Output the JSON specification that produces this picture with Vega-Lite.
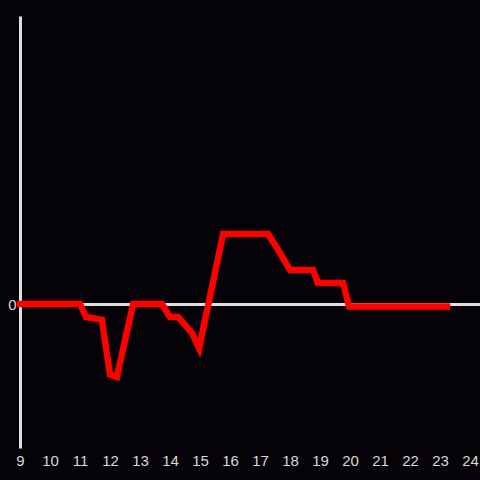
{
  "$schema": "https://vega.github.io/schema/vega-lite/v6.json",
  "width": 460,
  "height": 432,
  "autosize": {"type": "none"},
  "padding": {"left": 20, "top": 16, "right": 0, "bottom": 32},
  "background": "#050307",
  "config": {
    "view": {"stroke": null},
    "font": "Liberation Sans"
  },
  "data": {
    "values": [
      {"x": 9.0, "y": 0},
      {"x": 11.0, "y": 0},
      {"x": 11.2, "y": -0.9},
      {"x": 11.73, "y": -1.1},
      {"x": 12.0, "y": -4.9},
      {"x": 12.23, "y": -5.07},
      {"x": 12.77, "y": 0},
      {"x": 13.73, "y": 0},
      {"x": 14.0, "y": -0.9},
      {"x": 14.27, "y": -0.9},
      {"x": 14.73, "y": -2.0},
      {"x": 14.97, "y": -3.06},
      {"x": 15.77, "y": 4.86},
      {"x": 17.27, "y": 4.86},
      {"x": 17.67, "y": 3.54},
      {"x": 18.0, "y": 2.36},
      {"x": 18.77, "y": 2.36},
      {"x": 18.93, "y": 1.46},
      {"x": 19.77, "y": 1.46},
      {"x": 19.97, "y": -0.17},
      {"x": 23.23, "y": -0.17}
    ]
  },
  "mark": {"type": "line", "color": "#ff0000", "strokeWidth": 6.5, "strokeCap": "square", "strokeJoin": "miter", "clip": false},
  "encoding": {
    "x": {
      "field": "x",
      "type": "quantitative",
      "scale": {"domain": [9, 24.3333], "nice": false, "zero": false},
      "axis": {
        "title": null,
        "values": [9, 10, 11, 12, 13, 14, 15, 16, 17, 18, 19, 20, 21, 22, 23, 24],
        "domain": false,
        "ticks": false,
        "grid": false,
        "labelFont": "Liberation Sans",
        "labelFontSize": 15,
        "labelColor": "#d8d8d8",
        "labelPadding": 5,
        "labelFlush": false,
        "labelOverlap": false
      }
    },
    "y": {
      "field": "y",
      "type": "quantitative",
      "scale": {"domain": [-10, 20], "nice": false, "zero": false},
      "axis": {
        "title": null,
        "values": [0],
        "domain": true,
        "domainColor": "#e0e0e0",
        "domainWidth": 3,
        "ticks": false,
        "grid": true,
        "gridColor": "#e0e0e0",
        "gridWidth": 3,
        "gridOpacity": 1,
        "labelFont": "Liberation Sans",
        "labelFontSize": 15,
        "labelColor": "#d8d8d8",
        "labelPadding": 4
      }
    }
  }
}
